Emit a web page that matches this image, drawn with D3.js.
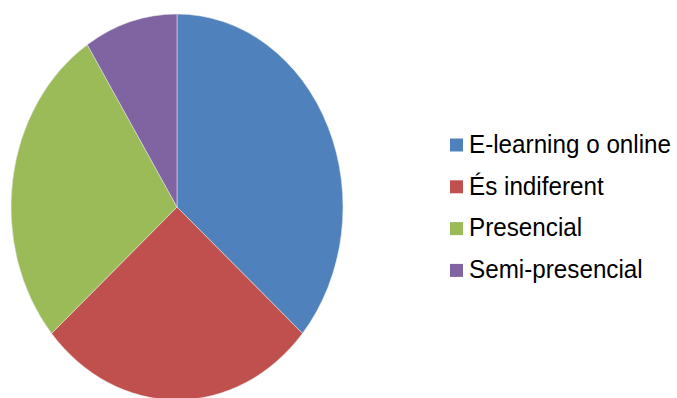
<!DOCTYPE html>
<html>
<head>
<meta charset="utf-8">
<script src="https://cdn.jsdelivr.net/npm/d3@7"></script>
<style>
  body { margin: 0; background: #fff; }
  svg { display: block; }
</style>
</head>
<body>
<svg id="chart" width="677" height="398"></svg>
<script>
// Données
const categories = ["E-learning o online", "És indiferent", "Presencial", "Semi-presencial"]
const valors = [8, 6, 6, 2]
const colors = ["#4F81BD", "#C0504D", "#9BBB59", "#8064A2"]

const svg = d3.select("#chart")

// Pastís (el·lipse: cercle escalat en x)
const cx = 177, cy = 207, ry = 193, rx = 166

const pie = d3.pie().sort(null).value(d => d)
const arc = d3.arc().innerRadius(0).outerRadius(ry)

const g = svg.append("g")
    .attr("transform", `translate(${cx},${cy}) scale(${rx / ry},1)`)

g.selectAll("path")
    .data(pie(valors))
    .enter()
    .append("path")
    .attr("d", arc)
    .attr("fill", (d, i) => colors[i])
    .attr("stroke", "#e8e8e8")
    .attr("stroke-width", 0.6)

// Llegenda
const legend = svg.append("g")
    .attr("transform", "translate(450,138.5)")

const row = legend.selectAll("g")
    .data(categories)
    .enter()
    .append("g")
    .attr("transform", (d, i) => `translate(0,${i * 41.8})`)

row.append("rect")
    .attr("width", 13)
    .attr("height", 13)
    .attr("fill", (d, i) => colors[i])

row.append("text")
    .attr("transform", "translate(19,14.3) scale(0.97,1)")
    .attr("font-family", "Liberation Sans, Arial, sans-serif")
    .attr("font-size", 25)
    .attr("fill", "#000")
    .text(d => d)
</script>
</body>
</html>
